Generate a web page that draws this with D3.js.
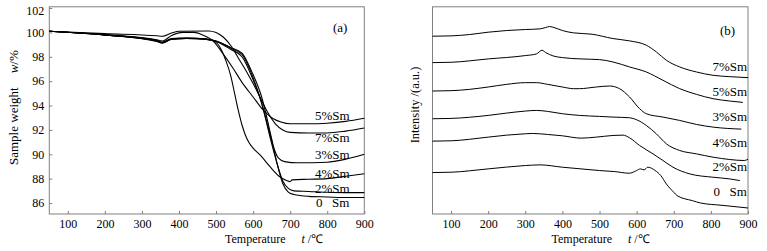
<!DOCTYPE html>
<html>
<head>
<meta charset="utf-8">
<script src="https://cdn.jsdelivr.net/npm/d3@7"></script>
<style>
  html, body { margin: 0; padding: 0; background: #fff; }
  svg { display: block; }
  text { font-family: "Liberation Serif", "Times New Roman", serif; fill: #000; }
</style>
</head>
<body>
<svg id="chart" width="767" height="251"></svg>
<script>
// ---------- Data ----------
const xTicks = [100, 200, 300, 400, 500, 600, 700, 800, 900];
const yTicksA = [86, 88, 90, 92, 94, 96, 98, 100, 102];

// Panel (a): TG curves, sample weight w/% vs temperature
const seriesNamesA = ["5%Sm", "7%Sm", "3%Sm", "4%Sm", "2%Sm", "0 Sm"];
const tgT_5 = [50, 200, 340, 355, 380, 410, 440, 470, 490, 520, 545, 570, 600, 625, 650, 675, 700, 750, 800, 850, 900];
const tgW_5 = [100.1, 99.8, 99.4, 99.3, 99.75, 100.0, 100.0, 99.7, 99.35, 98.2, 97.1, 95.9, 94.7, 93.7, 93.0, 92.65, 92.5, 92.5, 92.55, 92.7, 92.95];
const tgT_7 = [50, 200, 340, 355, 380, 400, 480, 500, 520, 540, 560, 580, 600, 620, 640, 660, 680, 700, 750, 800, 850, 900];
const tgW_7 = [100.1, 99.9, 99.72, 99.68, 99.95, 100.1, 100.12, 100.0, 99.6, 98.9, 97.9, 96.9, 95.8, 94.6, 93.4, 92.5, 92.0, 91.8, 91.75, 91.75, 91.9, 92.15];
const tgT_3 = [50, 200, 340, 355, 380, 420, 470, 500, 540, 570, 596, 622, 640, 655, 668, 685, 720, 800, 850, 900];
const tgW_3 = [100.1, 99.8, 99.35, 99.2, 99.5, 99.55, 99.45, 99.25, 98.6, 98.0, 96.4, 94.3, 92.3, 90.6, 89.7, 89.4, 89.3, 89.35, 89.6, 90.0];
const tgT_4 = [50, 200, 340, 355, 380, 420, 460, 490, 510, 525, 540, 550, 560, 570, 580, 590, 600, 620, 645, 670, 690, 700, 705, 750, 800, 850, 900];
const tgW_4 = [100.1, 99.8, 99.3, 99.15, 99.45, 99.5, 99.5, 99.35, 98.8, 97.8, 96.4, 95.0, 93.6, 92.4, 91.5, 90.9, 90.5, 89.9, 89.0, 88.2, 87.85, 87.75, 87.9, 87.95, 88.0, 88.2, 88.4];
const tgT_2 = [50, 200, 340, 355, 380, 420, 470, 500, 540, 570, 596, 622, 649, 665, 680, 695, 710, 750, 800, 850, 900];
const tgW_2 = [100.1, 99.8, 99.3, 99.15, 99.45, 99.5, 99.45, 99.3, 98.7, 98.2, 96.6, 94.3, 91.0, 89.2, 87.8, 87.2, 87.0, 86.95, 86.88, 86.85, 86.85];
const tgT_0 = [50, 200, 340, 355, 380, 420, 470, 500, 540, 570, 596, 622, 649, 665, 680, 695, 710, 750, 800, 850, 900];
const tgW_0 = [100.1, 99.8, 99.25, 99.12, 99.45, 99.5, 99.45, 99.3, 98.75, 98.3, 96.8, 94.8, 91.4, 89.2, 87.6, 86.9, 86.7, 86.55, 86.5, 86.45, 86.45];

// Panel (b): intensity (a.u.), stacked curves
const seriesNamesB = ["7%Sm", "5%Sm", "3%Sm", "4%Sm", "2%Sm", "0 Sm"];
const inT_7 = [50, 100, 150, 200, 250, 300, 340, 355, 365, 380, 400, 430, 480, 536, 581, 626, 653, 680, 716, 761, 806, 850, 900];
const inI_7 = [532, 533, 537, 544, 549, 552, 554, 558, 561, 557, 549, 542, 538, 525, 518, 505, 485, 460, 440, 425, 415, 411, 408];
const inT_5 = [50, 100, 200, 300, 330, 345, 355, 375, 400, 450, 500, 536, 581, 626, 671, 716, 761, 806, 851, 886];
const inI_5 = [453, 454, 464, 474, 479, 490, 483, 473, 468, 464, 462, 455, 440, 425, 400, 375, 358, 345, 338, 334];
const inT_3 = [50, 100, 150, 200, 250, 300, 330, 360, 400, 430, 446, 491, 527, 554, 581, 608, 626, 671, 716, 761, 806, 882];
const inI_3 = [368, 369, 373, 380, 388, 393, 393, 388, 380, 375, 375, 380, 383, 375, 350, 315, 300, 290, 280, 268, 260, 254];
const inT_4 = [50, 100, 200, 250, 300, 330, 360, 400, 446, 500, 536, 581, 600, 626, 653, 680, 716, 761, 806, 851, 890, 900];
const inI_4 = [285, 286, 295, 302, 308, 310, 307, 300, 295, 292, 290, 288, 282, 265, 240, 210, 190, 180, 170, 163, 160, 164];
const inT_2 = [50, 100, 200, 250, 300, 320, 360, 400, 450, 491, 536, 563, 581, 608, 644, 671, 698, 743, 806, 851, 878];
const inI_2 = [218, 219, 230, 236, 240, 241, 238, 234, 227, 230, 235, 236, 228, 205, 180, 160, 140, 120, 110, 105, 100];
const inT_0 = [50, 100, 200, 300, 340, 400, 450, 500, 540, 580, 600, 610, 620, 630, 650, 665, 680, 700, 709, 750, 772, 830, 900];
const inI_0 = [124, 125, 135, 145, 147, 140, 135, 130, 127, 122, 130, 135, 132, 140, 130, 115, 90, 65, 55, 40, 33, 26, 18];

// ---------- Drawing ----------
const svg = d3.select("#chart");
const AX = "#808080";
const curveA = [[tgT_5, tgW_5], [tgT_7, tgW_7], [tgT_3, tgW_3], [tgT_4, tgW_4], [tgT_2, tgW_2], [tgT_0, tgW_0]];
const curveB = [[inT_7, inI_7], [inT_5, inI_5], [inT_3, inI_3], [inT_4, inI_4], [inT_2, inI_2], [inT_0, inI_0]];

function panel(opts) {
  const x = d3.scaleLinear().domain([50, 900]).range(opts.xr);
  const y = d3.scaleLinear().domain(opts.yd).range([214, 6.8]);
  const g = svg.append("g");

  // frame
  g.append("rect")
    .attr("x", x(50)).attr("y", y(opts.yd[1]))
    .attr("width", x(900) - x(50)).attr("height", y(opts.yd[0]) - y(opts.yd[1]))
    .attr("fill", "none").attr("stroke", AX).attr("stroke-width", 1);

  // bottom axis
  const xa = g.append("g").attr("transform", `translate(0,${y(opts.yd[0])})`)
    .call(d3.axisBottom(x).tickValues(xTicks).tickSize(-3).tickSizeOuter(0).tickPadding(5));
  xa.select(".domain").remove();
  xa.selectAll(".tick line").attr("stroke", AX);
  xa.selectAll(".tick text").style("font-family", "Liberation Serif").style("font-size", "12px").attr("fill", "#000");

  if (opts.yTicks) {
    const ya = g.append("g").attr("transform", `translate(${x(50)},0)`)
      .call(d3.axisLeft(y).tickValues(opts.yTicks).tickSize(-3).tickSizeOuter(0).tickPadding(5));
    ya.select(".domain").remove();
    ya.selectAll(".tick line").attr("stroke", AX);
    ya.selectAll(".tick text").style("font-family", "Liberation Serif").style("font-size", "12px").attr("fill", "#000")
      .attr("dy", d => d === opts.yTicks[opts.yTicks.length - 1] ? "0.55em" : "0.32em");
  }

  const line = d3.line().x(d => x(d[0])).y(d => y(d[1])).curve(d3.curveMonotoneX);
  opts.curves.forEach(([ts, vs]) => {
    g.append("path")
      .datum(ts.map((t, i) => [t, vs[i]]))
      .attr("d", line)
      .attr("fill", "none").attr("stroke", "#000").attr("stroke-width", opts.lw);
  });

  // series labels
  opts.names.forEach((name, i) => {
    const t = g.append("text").attr("y", opts.labY[i]).style("font-size", "13px");
    if (name.startsWith("0")) {
      t.append("tspan").attr("x", opts.labX + 1).text("0");
      t.append("tspan").attr("x", opts.labX + 17).text("Sm");
    } else {
      t.attr("x", opts.labX).text(name);
    }
  });

  // panel letter
  g.append("text").attr("x", opts.letterX).attr("y", opts.letterY).style("font-size", "13px").text(opts.letter);

  // x title
  const xt = g.append("text").attr("x", opts.xTitleX).attr("y", 243).style("font-size", "12px");
  xt.append("tspan").text("Temperature");
  xt.append("tspan").attr("dx", 16).style("font-style", "italic").text("t");
  xt.append("tspan").text(" /\u2103");
  return { x, y };
}

panel({
  xr: [49.3, 364.3], yd: [85.1, 102.1], yTicks: yTicksA, curves: curveA, lw: 1.1,
  names: seriesNamesA, labX: 315, labY: [120, 141.5, 159, 177.5, 192.5, 206.5],
  letter: "(a)", letterX: 333, letterY: 32, xTitleX: 225
});

panel({
  xr: [432.5, 748], yd: [0, 620], yTicks: null, curves: curveB, lw: 1,
  names: seriesNamesB, labX: 712.5, labY: [71, 96, 121, 146.5, 171, 196],
  letter: "(b)", letterX: 720, letterY: 35, xTitleX: 551.5
});

// y titles
const ytA = svg.append("text").attr("transform", "translate(18,165) rotate(-90)").style("font-size", "13px");
ytA.append("tspan").text("Sample weight");
ytA.append("tspan").attr("dx", 14).style("font-style", "italic").text("w");
ytA.append("tspan").text("/%");

svg.append("text").attr("transform", "translate(419,105) rotate(-90)")
  .attr("text-anchor", "middle").style("font-size", "12.5px").text("Intensity /(a.u.)");
</script>
</body>
</html>
